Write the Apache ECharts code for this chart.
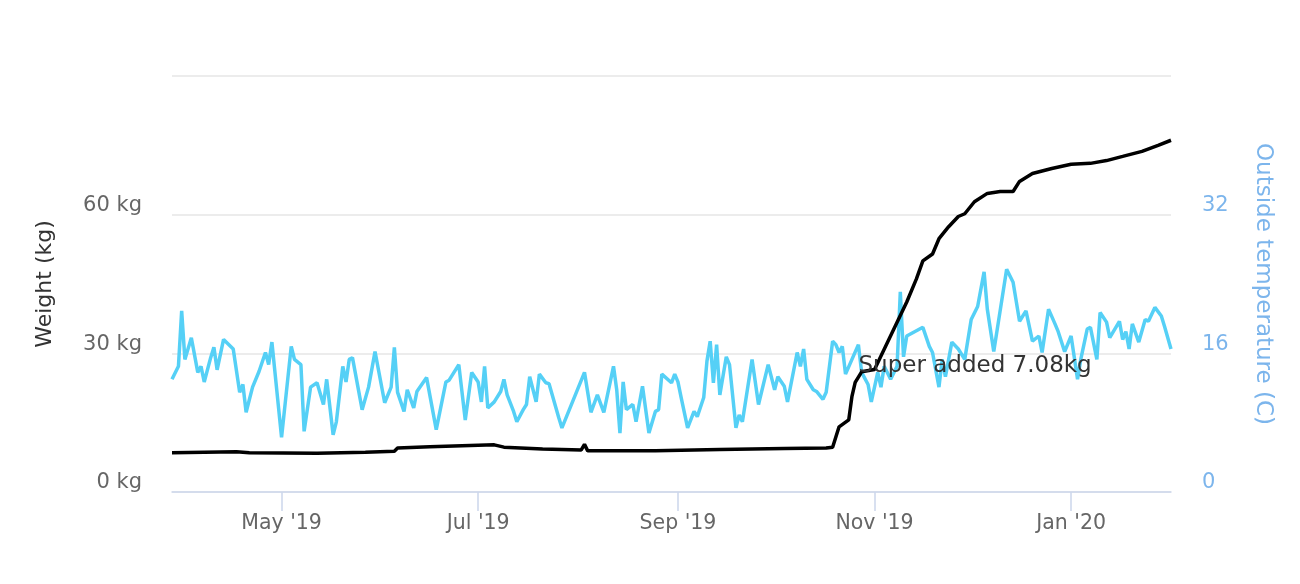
<!DOCTYPE html>
<html>
<head>
<meta charset="utf-8">
<script src="https://cdn.jsdelivr.net/npm/echarts@6/dist/echarts.min.js"></script>
<style>
  html, body { margin: 0; padding: 0; background: #fff; }
  #chart { width: 1300px; height: 584px; }
</style>
</head>
<body>
<div id="chart"></div>
<script>
// days counted from 2019-03-28
var startYear = 2019, startMonth = 2, startDay = 28;

var tempDays = [0, 2, 3, 4, 6, 8, 9, 10, 12, 13, 14, 16, 19, 21, 22, 23, 25, 27, 29, 30, 31, 34, 37, 38, 40, 41, 43, 45, 47, 48,
	50, 51, 53, 54, 55, 56, 59, 61, 63, 66, 68, 69, 70, 72, 73, 75, 76, 79, 82, 85, 86, 89, 91, 93, 95, 96, 97, 98, 100, 102,
	103, 104, 106, 107, 109, 110, 111, 113, 114, 116, 117, 120, 121, 128, 130, 132, 134, 137, 138, 139, 140, 141, 143, 144, 146, 148, 150, 151, 152, 155,
	156, 157, 158, 160, 162, 163, 165, 166, 167, 168, 169, 170, 172, 173, 175, 176, 177, 180, 182, 185, 187, 188, 190, 191, 194, 195, 196, 197, 199, 200,
	202, 203, 205, 206, 207, 208, 209, 211, 213, 214, 216, 217, 219, 220, 221, 223, 225, 226, 227, 228, 233, 235, 236, 238, 239, 240, 242, 244, 246, 248,
	250, 252, 253, 255, 259, 261, 263, 265, 267, 269, 270, 272, 274, 275, 277, 279, 281, 282, 284, 285, 287, 288, 290, 291, 294, 295, 296, 297, 298, 300,
	302, 303, 305, 307, 308, 310];
var tempValues = [13.0, 14.5, 20.9, 15.3, 17.8, 13.8, 14.5, 12.7, 15.5, 16.7, 14.1, 17.6, 16.5, 11.5, 12.4, 9.2, 12.1, 13.9, 16.1, 14.7, 17.3, 6.3, 16.8, 15.3, 14.7, 7.0, 12.1, 12.6, 10.1, 13.0,
	6.6, 8.1, 14.5, 12.7, 15.3, 15.5, 9.5, 12.1, 16.2, 10.3, 12.1, 16.7, 11.5, 9.3, 11.8, 9.7, 11.6, 13.2, 7.2, 12.7, 12.9, 14.7, 8.3, 13.8, 12.7, 10.4, 14.5, 9.7, 10.4, 11.6,
	13.0, 11.2, 9.3, 8.1, 9.5, 10.1, 13.3, 10.4, 13.6, 12.6, 12.5, 8.6, 7.4, 13.8, 9.2, 11.2, 9.2, 14.5, 11.8, 6.8, 12.7, 9.5, 10.1, 8.1, 12.2, 6.8, 9.3, 9.5, 13.6, 12.6,
	13.6, 12.7, 10.9, 7.4, 9.3, 8.7, 10.9, 15.1, 17.4, 12.6, 17.0, 11.2, 15.6, 14.7, 7.4, 8.9, 8.1, 15.3, 10.1, 14.7, 11.8, 13.3, 12.2, 10.4, 16.1, 14.5, 16.5, 13.0, 11.8, 11.6,
	10.7, 11.5, 17.4, 17.0, 16.1, 16.8, 13.6, 15.3, 17.0, 13.8, 12.4, 10.4, 13.8, 12.1, 14.5, 13.0, 14.5, 23.1, 15.6, 18.0, 19.0, 16.8, 16.1, 12.1, 15.3, 13.3, 17.3, 16.5, 15.3, 19.9,
	21.4, 25.4, 21.1, 16.2, 25.7, 24.2, 19.7, 20.9, 17.4, 18.0, 16.1, 21.1, 19.4, 18.5, 16.2, 18.0, 13.0, 15.3, 18.8, 19.0, 15.3, 20.7, 19.6, 17.8, 19.7, 17.6, 18.5, 16.5, 19.4, 17.3,
	19.9, 19.7, 21.3, 20.3, 19.1, 16.5];

var weightDays = [0, 20, 24, 45, 60, 69, 70, 80, 95, 100, 103, 115, 127, 128, 129, 150, 170, 190, 203, 205,
	207, 210, 211, 212, 214, 218, 221, 225, 228, 231, 233, 236, 238, 241, 244, 246, 249, 253, 257, 261,
	263, 267, 273, 279, 285, 290, 295, 301, 306, 310];
var weightValues = [8.5, 8.7, 8.5, 8.4, 8.6, 8.8, 9.5, 9.8, 10.1, 10.2, 9.7, 9.3, 9.1, 10.3, 8.9, 8.9, 9.2, 9.4, 9.5, 9.7,
	14.1, 15.6, 20.7, 23.7, 26.0, 26.5, 30.9, 36.7, 41.1, 46.1, 50.0, 51.5, 54.8, 57.4, 59.6, 60.2, 62.8, 64.6, 65.0, 65.0,
	67.2, 68.9, 70.0, 70.9, 71.1, 71.7, 72.6, 73.7, 75.0, 76.1];

var noteDay = 218;
var noteValue = 26.5;
var noteText = 'Super added 7.08kg';

var xTickDates = [[2019, 5, 1], [2019, 7, 1], [2019, 9, 1], [2019, 11, 1], [2020, 1, 1]];
var xTickLabels = ["May '19", "Jul '19", "Sep '19", "Nov '19", "Jan '20"];
var xEndDay = 310;

var weightTicks = [0, 30, 60, 90];
var tempTicks = [0, 16, 32, 48];

function dayToTime(d) {
	return new Date(startYear, startMonth, startDay + d).getTime();
}

function pairs(days, values) {
	var out = [];
	for (var i = 0; i < days.length; i++) {
		out.push([dayToTime(days[i]), values[i]]);
	}
	return out;
}

var tickTimes = xTickDates.map(function(t) {
	return new Date(t[0], t[1] - 1, t[2]).getTime();
});

var Chart = echarts.init(document.getElementById('chart'));
var font = 'DejaVu Sans';

var option = {
	animation : false,
	textStyle : { fontFamily : font },
	grid : { left : 172, right : 129, top : 76, bottom : 92 },
	xAxis : {
		type : 'value',
		min : dayToTime(0),
		max : dayToTime(xEndDay),
		axisLine : { lineStyle : { color : '#ccd6eb', width : 1.5 } },
		axisTick : {
			show : true,
			length : 19,
			customValues : tickTimes,
			lineStyle : { color : '#ccd6eb', width : 1.5 }
		},
		axisLabel : {
			customValues : tickTimes,
			color : '#666',
			fontSize : 20.5,
			fontFamily : font,
			margin : 21,
			formatter : function(v) {
				var i = tickTimes.indexOf(v);
				return i >= 0 ? xTickLabels[i] : '';
			}
		},
		splitLine : { show : false }
	},
	yAxis : [ {
		type : 'value',
		min : weightTicks[0],
		max : weightTicks[weightTicks.length - 1],
		interval : weightTicks[1] - weightTicks[0],
		name : 'Weight (kg)',
		nameLocation : 'middle',
		nameRotate : 90,
		nameGap : 116,
		nameTextStyle : { color : '#333', fontSize : 22, fontFamily : font },
		axisLine : { show : false },
		axisTick : { show : false },
		axisLabel : {
			color : '#666',
			fontSize : 21,
			fontFamily : font,
			margin : 30,
			showMaxLabel : false,
			verticalAlign : 'bottom',
			lineHeight : 18,
			formatter : '{value} kg'
		},
		splitLine : { lineStyle : { color : '#e6e6e6', width : 1.5 } }
	}, {
		type : 'value',
		min : tempTicks[0],
		max : tempTicks[tempTicks.length - 1],
		interval : tempTicks[1] - tempTicks[0],
		name : 'Outside temperature (C)',
		nameLocation : 'middle',
		nameRotate : -90,
		nameGap : 80,
		nameTextStyle : { color : '#7cb5ec', fontSize : 23, fontFamily : font },
		axisLine : { show : false },
		axisTick : { show : false },
		axisLabel : {
			color : '#7cb5ec',
			fontSize : 21,
			fontFamily : font,
			margin : 31,
			showMaxLabel : false,
			verticalAlign : 'bottom',
			lineHeight : 18
		},
		splitLine : { show : false }
	} ],
	series : [ {
		name : 'Outside temperature',
		type : 'line',
		yAxisIndex : 1,
		showSymbol : false,
		symbol : 'none',
		lineStyle : { color : '#55d0f6', width : 3.5 },
		data : pairs(tempDays, tempValues)
	}, {
		name : 'Weight',
		type : 'line',
		yAxisIndex : 0,
		showSymbol : false,
		symbol : 'none',
		lineStyle : { color : '#000', width : 3.5 },
		data : pairs(weightDays, weightValues),
		markPoint : {
			symbol : 'circle',
			symbolSize : 0,
			data : [ { coord : [ dayToTime(noteDay), noteValue ] } ],
			label : {
				show : true,
				position : 'right',
				distance : 0,
				offset : [ -16, -3 ],
				formatter : noteText,
				color : '#333',
				fontSize : 23,
				fontFamily : font
			}
		}
	} ]
};

Chart.setOption(option);
</script>
</body>
</html>
